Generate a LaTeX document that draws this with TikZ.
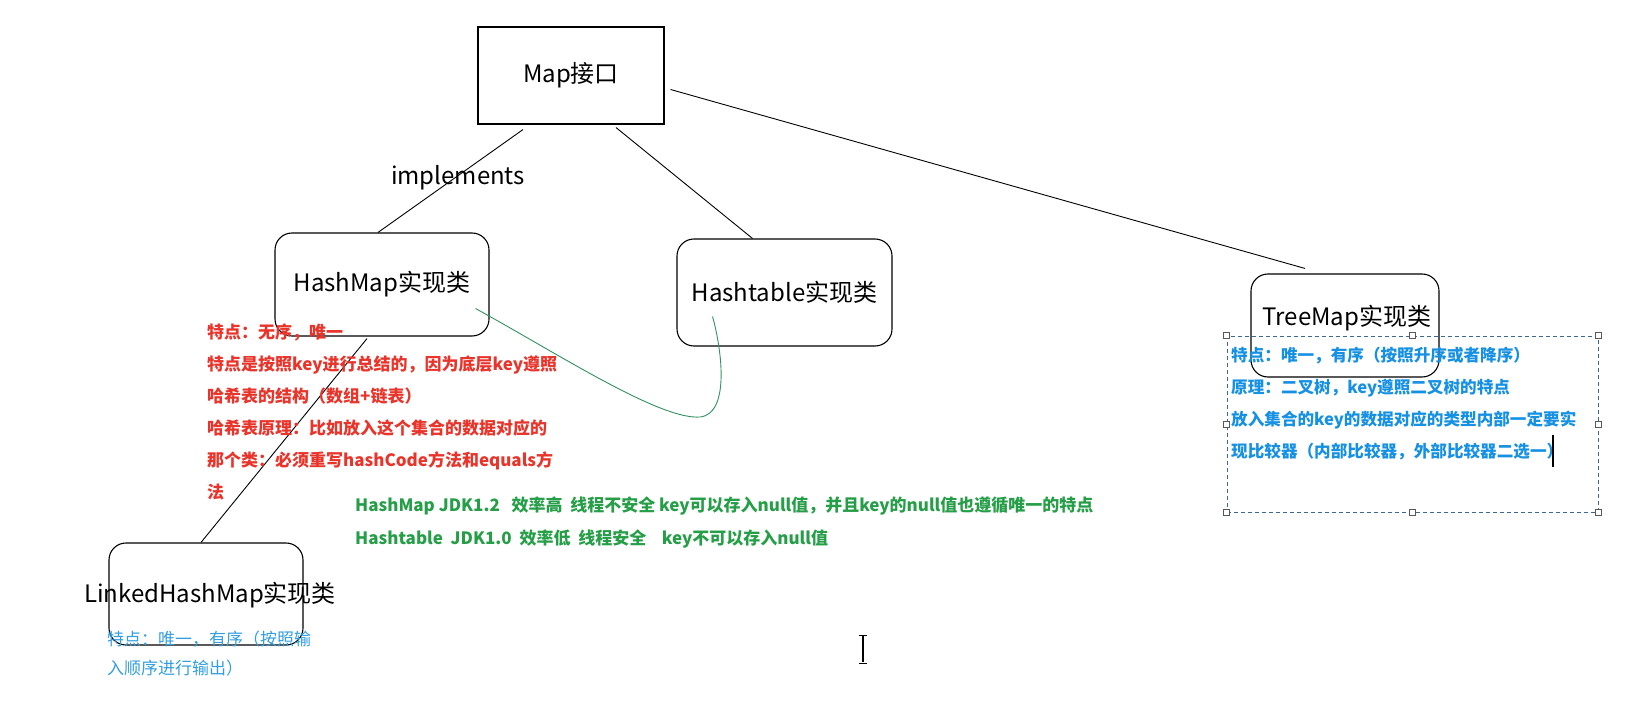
\documentclass[tikz,border=0pt]{standalone}
\usepackage{fontspec}
\setmainfont{Noto Sans CJK SC}
\usepackage{xcolor}
\usetikzlibrary{
    positioning,
    calc
}
\tikzset{
  ifbox/.style    = {draw, line width=1.1pt, minimum width=186pt,
                     minimum height=97pt, font=\fontsize{24}{28}\selectfont},
  rbox/.style     = {draw, line width=1.1pt, rounded corners=17pt,
                     inner sep=0pt, font=\fontsize{24}{28}\selectfont},
  boxtxt/.style   = {inner sep=0pt, font=\fontsize{24}{28}\selectfont},
  rednote/.style  = {anchor=north west, inner sep=0pt, align=left, text=noteRed,
                     font=\fontsize{17}{32}\selectfont\bfseries},
  greennote/.style= {anchor=north west, inner sep=0pt, align=left, text=noteGreen,
                     font=\fontsize{17}{33}\selectfont\bfseries},
  bluenote/.style = {anchor=north west, inner sep=0pt, align=left, text=noteBlue,
                     font=\fontsize{16.6}{32}\selectfont\bfseries},
  lbluenote/.style= {anchor=north west, inner sep=0pt, align=left, text=noteLightBlue,
                     font=\fontsize{17}{29}\selectfont},
  conn/.style     = {line width=0.9pt},
  selframe/.style = {draw=selBlue, dash pattern=on 4pt off 3pt, line width=0.9pt,
                     inner sep=0pt},
  handle/.style   = {draw=black!65, fill=white, line width=0.8pt,
                     minimum size=6pt, inner sep=0pt}
}
\definecolor{noteRed}{RGB}{232,52,42}
\definecolor{noteGreen}{RGB}{38,158,72}
\definecolor{noteBlue}{RGB}{22,144,226}
\definecolor{noteLightBlue}{RGB}{52,158,222}
\definecolor{linkGreen}{RGB}{50,145,95}
\definecolor{selBlue}{RGB}{62,104,146}

\begin{document}
\begin{tikzpicture}[x=1pt, y=-1pt]
  \useasboundingbox (0,0) rectangle (1637,719);

  % interface and classes
  \node[ifbox] (map) at (571,75.5) {Map接口};
  \node[rbox, minimum width=214pt, minimum height=103pt] (hashmap) at (382,284.5) {HashMap实现类};
  \node[rbox, minimum width=215pt, minimum height=107pt] (hashtable) at (784.5,292.5) {Hashtable实现类};
  \node[rbox, minimum width=188pt, minimum height=103pt] (treemap) at (1345,325.5) {};
  \node[boxtxt] (treemaptxt) at (1347,318) {TreeMap实现类};
  \node[rbox, minimum width=194pt, minimum height=102pt] (linked) at (206,594) {};
  \node[boxtxt] (linkedtxt) at (210,595) {LinkedHashMap实现类};

  \node[boxtxt] (impl) at (458,178) {implements};

  \draw[conn] ($(map.south)+(-48,5)$) -- ($(hashmap.north)+(-4,0)$);
  \draw[conn] ($(map.south)+(45,3)$) -- ($(hashtable.north)+(-32,0)$);
  \draw[conn] ($(map.east)+(6,14)$) -- ($(treemap.north)+(-40,-5)$);
  \draw[conn] ($(hashmap.south)+(-15,2)$) -- ($(linked.north)+(-5,0)$);
  \draw[conn, linkGreen] ($(hashmap.east)+(-14,24)$) .. controls (560,355) and (660,420) .. (700,417)
                         .. controls (730,414) and (722,350) .. ($(hashtable.center)+(-72,24)$);

  % notes
  \node[rednote] (hmnote) at (207,324) {特点：无序，唯一\\
    特点是按照key进行总结的，因为底层key遵照\\
    哈希表的结构（数组+链表）\\
    哈希表原理：比如放入这个集合的数据对应的\\
    那个类：必须重写hashCode方法和equals方\\
    法};
  \node[greennote] (cmpnote) at (355,497) {HashMap JDK1.2\ \ \ 效率高\ \ 线程不安全 key可以存入null值，并且key的null值也遵循唯一的特点\\
    Hashtable\ \ JDK1.0\ \ 效率低\ \ 线程安全\ \ \ \ key不可以存入null值};
  \node[lbluenote] (lhmnote) at (107,631) {特点：唯一，有序（按照输\\ 入顺序进行输出）};

  % selected text frame
  \node[selframe, minimum width=371pt, minimum height=176pt] (sel) at (1412.5,424) {};
  \node[bluenote] (tmnote) at (1231,347) {特点：唯一，有序（按照升序或者降序）\\
    原理：二叉树，key遵照二叉树的特点\\
    放入集合的key的数据对应的类型内部一定要实\\
    现比较器（内部比较器，外部比较器二选一）};
  \node[handle] (h1) at (sel.north west) {};
  \node[handle] (h2) at (sel.north) {};
  \node[handle] (h3) at (sel.north east) {};
  \node[handle] (h4) at (sel.west) {};
  \node[handle] (h5) at (sel.east) {};
  \node[handle] (h6) at (sel.south west) {};
  \node[handle] (h7) at (sel.south) {};
  \node[handle] (h8) at (sel.south east) {};
  \draw[line width=1.5pt] (1553,435) -- (1553,467);

  % mouse cursor
  \draw[line width=1.2pt] (863,636) -- (863,662);
  \draw[line width=1pt] (859,635) -- (867,635);
  \draw[line width=1pt] (859,663) -- (867,663);
\end{tikzpicture}
\end{document}
